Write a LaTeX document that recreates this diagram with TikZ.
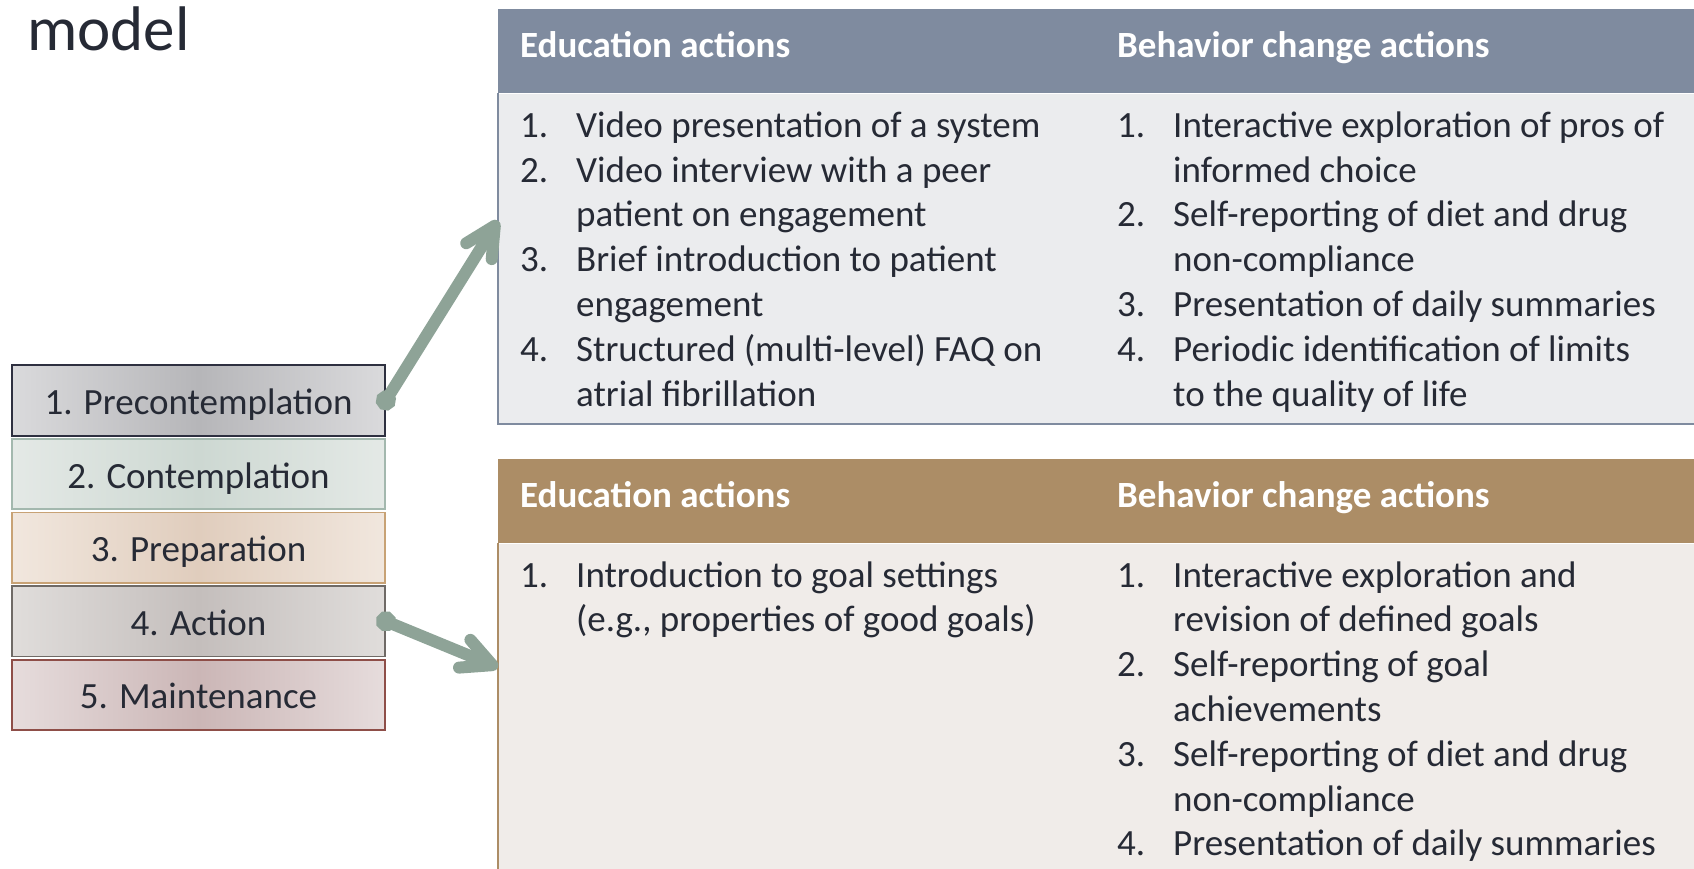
\documentclass[tikz,border=0pt]{standalone}
\usepackage{fontspec}
\setmainfont{Carlito}
\usepackage{xcolor}
\usetikzlibrary{arrows.meta, positioning, calc}

\definecolor{ink}{HTML}{262A35}
\definecolor{slate}{HTML}{7F8B9F}
\definecolor{slatebg}{HTML}{EBECEE}
\definecolor{tan}{HTML}{AC8D66}
\definecolor{tanbg}{HTML}{F0ECE9}
\definecolor{sage}{HTML}{8EA397}
% stage colours: border, edge, centre
\definecolor{prebd}{HTML}{2E3040}\definecolor{preside}{HTML}{DADADC}\definecolor{premid}{HTML}{B6B6B9}
\definecolor{conbd}{HTML}{A3B8AE}\definecolor{conside}{HTML}{E4E9E6}\definecolor{conmid}{HTML}{CDD8D2}
\definecolor{prpbd}{HTML}{C8A275}\definecolor{prpside}{HTML}{F1E7DE}\definecolor{prpmid}{HTML}{E0CDBD}
\definecolor{actbd}{HTML}{6F6A66}\definecolor{actside}{HTML}{E0DDDB}\definecolor{actmid}{HTML}{C4BEBC}
\definecolor{mntbd}{HTML}{8E4E48}\definecolor{mntside}{HTML}{E6DCDC}\definecolor{mntmid}{HTML}{CBB6B6}

\newcommand{\itm}[2]{\makebox[56pt][l]{#1}#2}
\newcommand{\cnt}[1]{\hspace*{56pt}#1}

\begin{document}
\begin{tikzpicture}[x=1pt, y=1pt,
        font=\fontsize{37}{44.8}\selectfont, text=ink,
        stage/.style={rectangle, line width=1.8pt, minimum width=373pt, minimum height=70.5pt, inner sep=0pt, text height=29.6pt, text depth=1.8pt},
        head/.style={rectangle, inner sep=0pt, anchor=north west, minimum width=1196pt, minimum height=84pt},
        body/.style={rectangle, inner sep=0pt, anchor=north west, minimum width=1196pt},
        htext/.style={anchor=base west, inner sep=0pt, text=white, font=\fontsize{37}{44.8}\selectfont\bfseries},
        list/.style={anchor=base west, inner sep=0pt, align=left},
        line/.style={draw=sage, line width=12pt, shorten <=-10pt, {Circle[length=20pt]}-{Straight Barb[length=30pt, width=30pt, round]}}
    ]
        \useasboundingbox (0,0) rectangle (1694,-869);

        \node[anchor=base west, inner sep=0pt, font=\fontsize{63}{70}\selectfont] (title) at (27,-51) {model};

        % the five stages
        \node[stage, draw=prebd, left color=preside, right color=preside, middle color=premid] (pre) at (198.5,-400.5) {1. Precontemplation};
        \node[stage, draw=conbd, left color=conside, right color=conside, middle color=conmid, below=1.3pt of pre] (con) {2. Contemplation};
        \node[stage, draw=prpbd, left color=prpside, right color=prpside, middle color=prpmid, below=1.3pt of con] (prp) {3. Preparation};
        \node[stage, draw=actbd, left color=actside, right color=actside, middle color=actmid, below=1.3pt of prp] (act) {4. Action};
        \node[stage, draw=mntbd, left color=mntside, right color=mntside, middle color=mntmid, below=1.3pt of act] (mnt) {5. Maintenance};

        % upper table (lists are placed by the baseline of their last line)
        \node[head, fill=slate] (tophead) at (498,-9) {};
        \node[body, fill=slatebg, minimum height=330pt] (topbody) at (tophead.south west) {};
        \draw[slate, line width=2pt] (topbody.north west) -- (topbody.south west) -- (topbody.south east);
        \node[htext] (topedu) at (520,-58) {Education actions};
        \node[htext] (topbeh) at (1117,-58) {Behavior change actions};
        \node[list] (topedulist) at (520,-406) {\itm{1.}{Video presentation of a system}\\
            \itm{2.}{Video interview with a peer}\\ \cnt{patient on engagement}\\
            \itm{3.}{Brief introduction to patient}\\ \cnt{engagement}\\
            \itm{4.}{Structured (multi-level) FAQ on}\\ \cnt{atrial fibrillation}};
        \node[list] (topbehlist) at (1117,-406) {\itm{1.}{Interactive exploration of pros of}\\ \cnt{informed choice}\\
            \itm{2.}{Self-reporting of diet and drug}\\ \cnt{non-compliance}\\
            \itm{3.}{Presentation of daily summaries}\\
            \itm{4.}{Periodic identification of limits}\\ \cnt{to the quality of life}};

        % lower table
        \node[head, fill=tan] (bothead) at (498,-459) {};
        \node[body, fill=tanbg, minimum height=326pt] (botbody) at (bothead.south west) {};
        \draw[tan, line width=2pt] (botbody.north west) -- (botbody.south west);
        \node[htext] (botedu) at (520,-507) {Education actions};
        \node[htext] (botbeh) at (1117,-507) {Behavior change actions};
        \node[list] (botedulist) at (520,-631.8) {\itm{1.}{Introduction to goal settings}\\ \cnt{(e.g., properties of good goals)}};
        \node[list] (botbehlist) at (1117,-855.8) {\itm{1.}{Interactive exploration and}\\ \cnt{revision of defined goals}\\
            \itm{2.}{Self-reporting of goal}\\ \cnt{achievements}\\
            \itm{3.}{Self-reporting of diet and drug}\\ \cnt{non-compliance}\\
            \itm{4.}{Presentation of daily summaries}};

        % stages pointing at their actions
        \path [line] (pre.east) -- ($(topbody.north west)!0.385!(topbody.south west)$);
        \path [line] (act.east) -- ($(botbody.north west)!0.38!(botbody.south west)$);
    \end{tikzpicture}
\end{document}
